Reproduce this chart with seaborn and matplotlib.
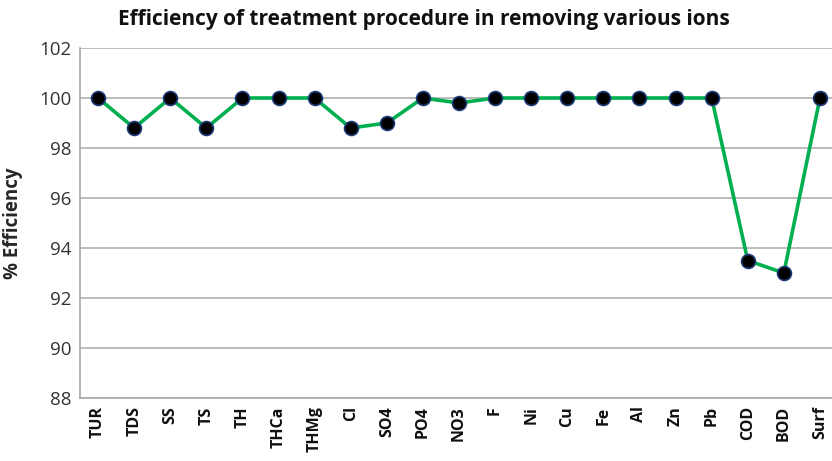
import matplotlib
matplotlib.use("Agg")
import matplotlib.pyplot as plt
import pandas as pd
import seaborn as sns

categories = ["TUR", "TDS", "SS", "TS", "TH", "THCa", "THMg", "Cl", "SO4", "PO4",
              "NO3", "F", "Ni", "Cu", "Fe", "Al", "Zn", "Pb", "COD", "BOD", "Surf"]
efficiency = [100, 98.8, 100, 98.8, 100, 100, 100, 98.8, 99.0, 100,
              99.8, 100, 100, 100, 100, 100, 100, 100, 93.5, 93.0, 100]
y_ticks = [88, 90, 92, 94, 96, 98, 100, 102]

sns.set_theme(style="white")
plt.rcParams["font.family"] = ["Open Sans", "DejaVu Sans"]

df = pd.DataFrame({"ion": categories, "eff": efficiency})

fig = plt.figure(figsize=(8.32, 4.61), dpi=100)
ax = fig.add_axes([80 / 832, 63 / 461, 758 / 832, 350 / 461])

sns.lineplot(data=df, x="ion", y="eff", sort=False, ax=ax,
             color="#00B050", linewidth=2.6, marker="o", markersize=10,
             markerfacecolor="black", markeredgecolor="#1F3A78", markeredgewidth=1.2)

ax.set_xlim(-0.5, len(categories) - 0.5)
ax.set_ylim(88, 102)
ax.set_yticks(y_ticks)
ax.set_yticklabels([str(t) for t in y_ticks], fontsize=13.5, color="#333333")
ax.set_xticks(range(len(categories)))
ax.set_xticklabels(categories, rotation=90, fontsize=11.5, fontweight="bold", color="#111111")
ax.tick_params(axis="both", length=0, pad=6)
ax.yaxis.grid(True, color="#B0B0B0", linewidth=1.2)
ax.set_axisbelow(True)

for side in ["top", "right"]:
    ax.spines[side].set_visible(False)
for side in ["left", "bottom"]:
    ax.spines[side].set_color("#A8A8A8")
    ax.spines[side].set_linewidth(1.2)

ax.set_xlabel("")
ax.set_ylabel("% Efficiency", fontsize=13.5, fontweight="bold", labelpad=12)

fig.text(424 / 832, 1 - 20 / 461, "Efficiency of treatment procedure in removing various ions",
         ha="center", va="center", fontsize=15, fontweight="bold", color="#111111")

fig.savefig("out.png", dpi=100)
